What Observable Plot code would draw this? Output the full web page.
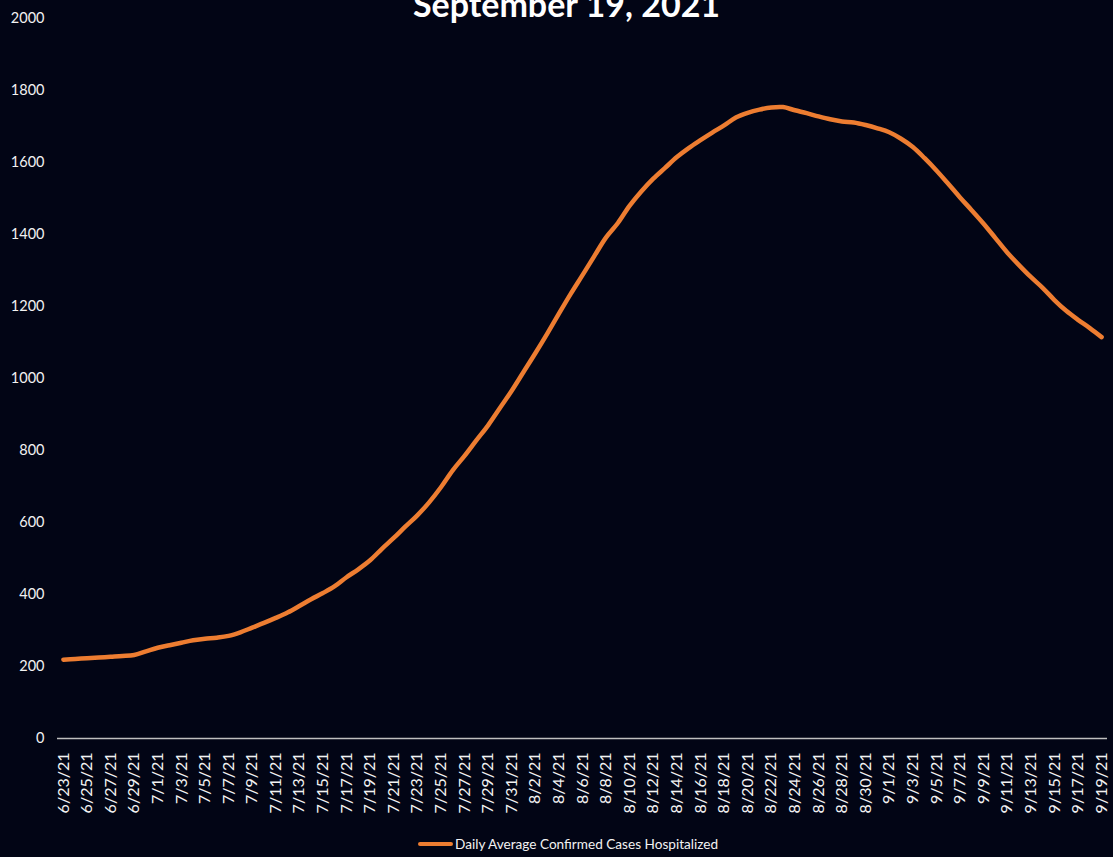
<!DOCTYPE html>
<html>
<head>
<meta charset="utf-8">
<script src="https://cdn.jsdelivr.net/npm/d3@7"></script>
<script src="https://cdn.jsdelivr.net/npm/@observablehq/plot@0.6"></script>
<style>
  html, body { margin: 0; padding: 0; background: #020515; overflow: hidden; }
  body { width: 1113px; height: 857px; position: relative; font-family: Lato, "Open Sans", sans-serif; color: #f2f2f2; }
  #title { position: absolute; left: 0; width: 1113px; top: -14px; text-align: center; font-weight: 700; font-size: 34px; color: #ffffff; padding-left: 20px; box-sizing: border-box; line-height: 36px; z-index: 2; }
  #chart { position: absolute; left: 0; top: 0; }
  #chart g[aria-label="y-axis tick label"] text { font-size: 14.5px !important; }
  #chart g[aria-label="x-axis tick label"] text { font-size: 16px !important; }
  #legend { position: absolute; top: 836px; left: 418px; display: flex; align-items: center; font-size: 13.6px; color: #f2f2f2; }
  #legend .sw { width: 35px; height: 4px; border-radius: 2px; background: #ED7D31; margin-right: 2px; }
</style>
</head>
<body>
<div id="title">September 19, 2021</div>
<div id="chart"></div>
<div id="legend"><span class="sw"></span><span>Daily Average Confirmed Cases Hospitalized</span></div>
<script>
const dates = [
  "6/23/21","6/24/21","6/25/21","6/26/21","6/27/21","6/28/21","6/29/21","6/30/21",
  "7/1/21","7/2/21","7/3/21","7/4/21","7/5/21","7/6/21","7/7/21","7/8/21","7/9/21","7/10/21",
  "7/11/21","7/12/21","7/13/21","7/14/21","7/15/21","7/16/21","7/17/21","7/18/21","7/19/21","7/20/21",
  "7/21/21","7/22/21","7/23/21","7/24/21","7/25/21","7/26/21","7/27/21","7/28/21","7/29/21","7/30/21","7/31/21",
  "8/1/21","8/2/21","8/3/21","8/4/21","8/5/21","8/6/21","8/7/21","8/8/21","8/9/21","8/10/21",
  "8/11/21","8/12/21","8/13/21","8/14/21","8/15/21","8/16/21","8/17/21","8/18/21","8/19/21","8/20/21",
  "8/21/21","8/22/21","8/23/21","8/24/21","8/25/21","8/26/21","8/27/21","8/28/21","8/29/21","8/30/21","8/31/21",
  "9/1/21","9/2/21","9/3/21","9/4/21","9/5/21","9/6/21","9/7/21","9/8/21","9/9/21","9/10/21",
  "9/11/21","9/12/21","9/13/21","9/14/21","9/15/21","9/16/21","9/17/21","9/18/21","9/19/21"
];
const hospitalized = [
  219,221,223,225,227,229,232,242,
  252,259,266,273,277,280,285,295,308,321,
  335,350,368,387,404,423,448,470,495,527,
  557,589,620,656,698,745,785,828,870,918,966,
  1018,1070,1124,1180,1235,1287,1340,1392,1432,1480,
  1520,1555,1585,1615,1640,1662,1683,1703,1725,1738,
  1747,1753,1754,1745,1737,1728,1720,1714,1711,1704,1695,
  1684,1666,1643,1612,1578,1541,1503,1467,1430,1390,
  1350,1315,1282,1252,1218,1188,1163,1140,1115
];
const xTickLabels = dates.filter((d, i) => i % 2 === 0);
const yTicks = [0,200,400,600,800,1000,1200,1400,1600,1800,2000];

const data = dates.map((d, i) => ({date: d, value: hospitalized[i]}));

const chart = Plot.plot({
  width: 1113,
  height: 830,
  marginLeft: 57,
  marginRight: 6,
  marginTop: 18,
  marginBottom: 92,
  style: {background: "transparent", color: "#f2f2f2", fontFamily: "Lato, 'Open Sans', sans-serif", fontSize: "14px"},
  x: {type: "point", domain: dates, padding: 0.5},
  y: {domain: [0, 2000]},
  marks: [
    Plot.axisY({ticks: yTicks, tickSize: 0, tickPadding: 13, label: null, tickFormat: d => String(d)}),
    Plot.axisX({ticks: xTickLabels, tickSize: 0, tickPadding: 14, tickRotate: -90, label: null}),
    Plot.ruleY([0], {stroke: "#bfbfbf", strokeWidth: 1.5}),
    Plot.line(data, {x: "date", y: "value", stroke: "#ED7D31", strokeWidth: 4.5, curve: "catmull-rom", strokeLinecap: "round"})
  ]
});
document.getElementById("chart").appendChild(chart);
</script>
</body>
</html>
